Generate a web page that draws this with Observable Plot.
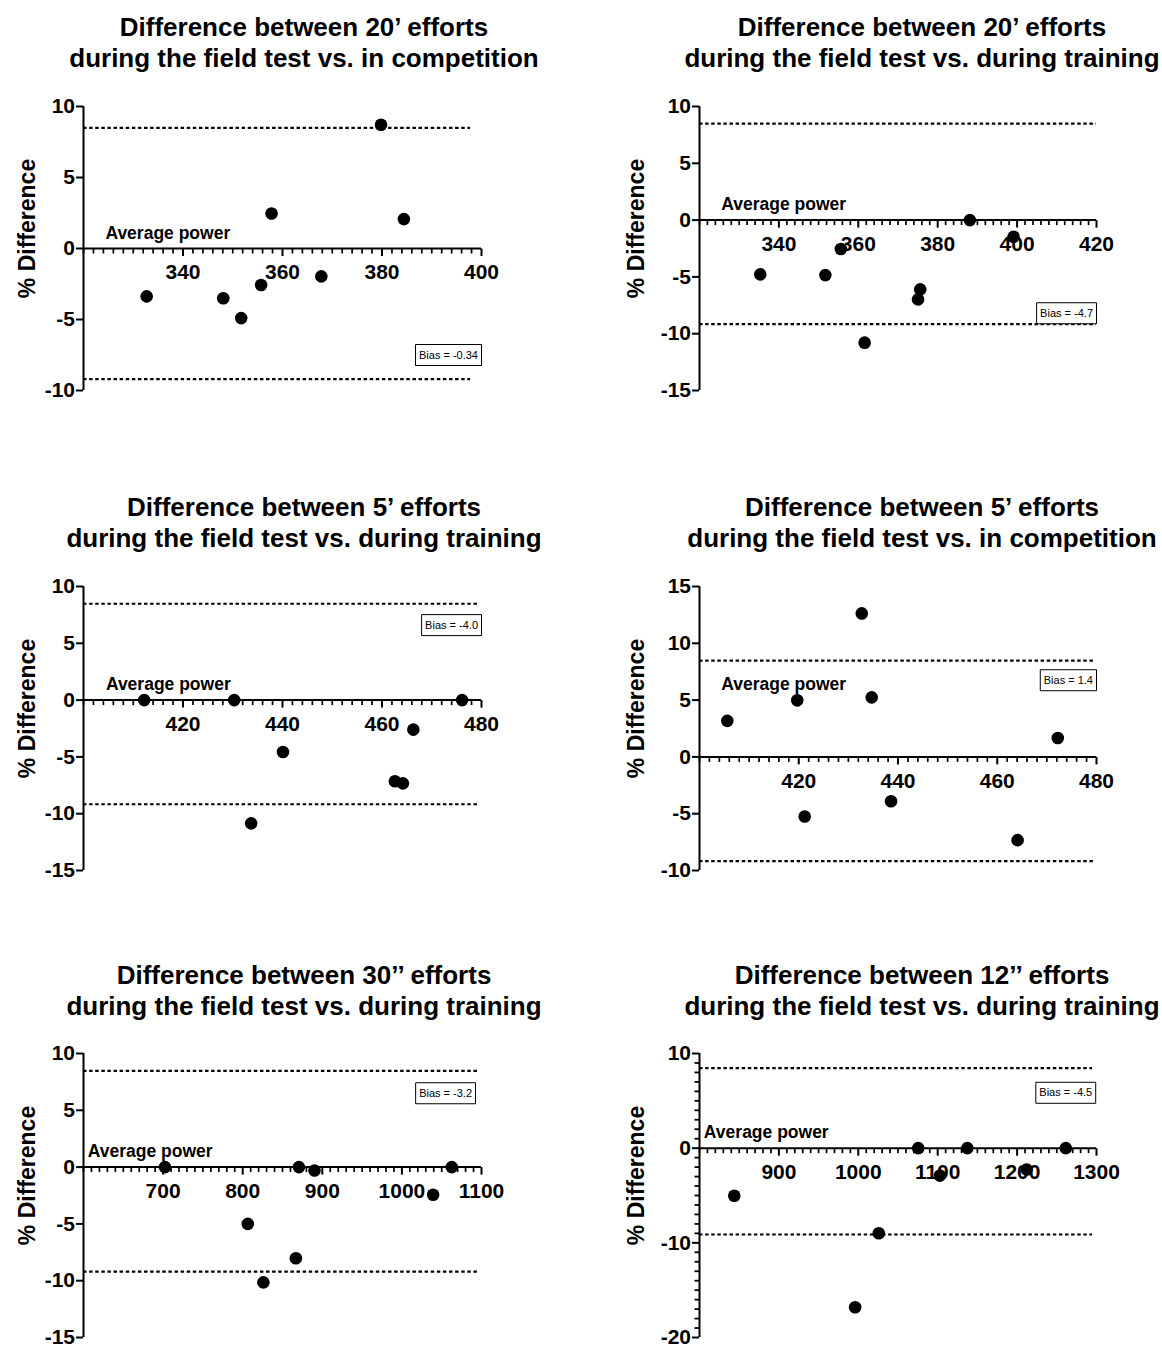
<!DOCTYPE html>
<html><head><meta charset="utf-8">
<script src="https://cdn.jsdelivr.net/npm/d3@7"></script>
<script src="https://cdn.jsdelivr.net/npm/@observablehq/plot@0.6"></script>
<style>
html,body{margin:0;padding:0;background:#fff;overflow:hidden}
#page{position:relative;width:1162px;height:1347px;font-family:"Liberation Sans",Arial,Helvetica,sans-serif;color:#000;background:#fff}
.title{position:absolute;font-weight:bold;font-size:26px;line-height:31px;text-align:center;white-space:nowrap;width:640px}
.panel{position:absolute}
</style></head><body><div id="page"></div>
<script>
// ---------------- DATA ----------------
const panelTitles = [
  ["Difference between 20\u2019 efforts", "during the field test vs. in competition"],
  ["Difference between 20\u2019 efforts", "during the field test vs. during training"],
  ["Difference between 5\u2019 efforts", "during the field test vs. during training"],
  ["Difference between 5\u2019 efforts", "during the field test vs. in competition"],
  ["Difference between 30\u2019\u2019 efforts", "during the field test vs. during training"],
  ["Difference between 12\u2019\u2019 efforts", "during the field test vs. during training"]
];
const power20Comp = [332.7, 348.1, 351.7, 355.7, 357.8, 367.8, 379.8, 384.4];
const diff20Comp  = [-3.37, -3.5, -4.9, -2.57, 2.47, -1.96, 8.71, 2.07];
const power20Train = [335.3, 351.7, 355.6, 361.6, 375.05, 375.6, 388.1, 399.1];
const diff20Train  = [-4.78, -4.84, -2.55, -10.79, -6.98, -6.1, 0, -1.47];
const power5Train = [412.2, 430.3, 433.7, 440.1, 462.6, 464.2, 466.3, 476.1];
const diff5Train  = [0, 0, -10.85, -4.57, -7.15, -7.33, -2.6, 0];
const power5Comp = [405.6, 419.7, 421.2, 432.7, 434.7, 438.6, 464.1, 472.2];
const diff5Comp  = [3.17, 4.98, -5.25, 12.63, 5.24, -3.9, -7.33, 1.67];
const power30sTrain = [702.3, 806.4, 826, 866.8, 870.6, 890.2, 1039.2, 1062.6];
const diff30sTrain  = [0, -5.0, -10.15, -8.03, 0, -0.3, -2.44, 0];
const power12sTrain = [843.8, 996, 1025.8, 1075.5, 1102.7, 1137.3, 1212.1, 1261.3];
const diff12sTrain  = [-5.02, -16.8, -8.98, 0, -2.9, 0, -2.25, 0];

const powerSeries = [power20Comp, power20Train, power5Train, power5Comp, power30sTrain, power12sTrain];
const diffSeries  = [diff20Comp, diff20Train, diff5Train, diff5Comp, diff30sTrain, diff12sTrain];

const xDomains = [[320, 400], [320, 420], [400, 480], [400, 480], [600, 1100], [800, 1300]];
const yDomains = [[-10, 10], [-15, 10], [-15, 10], [-10, 15], [-15, 10], [-20, 10]];
const xTickLabels = [
  [340, 360, 380, 400], [340, 360, 380, 400, 420], [420, 440, 460, 480],
  [420, 440, 460, 480], [700, 800, 900, 1000, 1100], [900, 1000, 1100, 1200, 1300]
];
const yTickLabels = [
  [-10, -5, 0, 5, 10], [-15, -10, -5, 0, 5, 10], [-15, -10, -5, 0, 5, 10],
  [-10, -5, 0, 5, 10, 15], [-15, -10, -5, 0, 5, 10], [-20, -10, 0, 10]
];
const xMinorSteps = [2, 2, 2, 2, 10, 10];
const yMinorSteps = [0, 0, 0, 0, 0, 1];
const limitsOfAgreement = [[8.5, -9.2], [8.5, -9.15], [8.48, -9.17], [8.47, -9.18], [8.47, -9.2], [8.45, -9.12]];
const loaLineEnd = [397.8, 420, 479.3, 479.5, 1096, 1295];
const biasLabels = ["Bias = -0.34", "Bias = -4.7", "Bias = -4.0", "Bias = 1.4", "Bias = -3.2", "Bias = -4.5"];
const biasAtX = [400, 420, 480, 480, 1092.5, 1299];
const biasAtY = [-7.5, -8.2, 6.6, 6.75, 6.5, 5.85];
const xAxisTitle = "Average power";
const xAxisTitleAtX = [324.4, 325.5, 404.5, 404.4, 605.4, 805.5];
const xAxisTitleAtY = [0, 0, 0, 5, 0, 0];
const yAxisTitle = "% Difference";

// ---------------- LAYOUT ----------------
const cols = [
  {left: 0, width: 560, ml: 83, mr: 79, ylabDx: -56, titleCx: 304},
  {left: 600, width: 562, ml: 99, mr: 66, ylabDx: -63, titleCx: 922}
];
const rows = [
  {plotTop: 106, titleBase: 36},
  {plotTop: 586, titleBase: 516},
  {plotTop: 1053, titleBase: 984.5}
];
const plotH = 284, mTop = 20, mBottom = 10;
const FONT = "Liberation Sans, Arial, Helvetica, sans-serif";

const measureCtx = document.createElement("canvas").getContext("2d");
measureCtx.font = "11px 'Liberation Sans', Arial, sans-serif";

const tickDown = len => ({draw(ctx) { ctx.moveTo(0, 0); ctx.lineTo(0, len); }});
const boxSymbol = (w, h) => ({draw(ctx) { ctx.moveTo(-w, -h / 2); ctx.lineTo(0, -h / 2); ctx.lineTo(0, h / 2); ctx.lineTo(-w, h / 2); ctx.closePath(); }});

const page = document.getElementById("page");

for (let i = 0; i < 6; i++) {
  const col = cols[i % 2], row = rows[Math.floor(i / 2)];
  const [x0, x1] = xDomains[i];
  const [y0, y1] = yDomains[i];
  const pts = powerSeries[i].map((p, k) => ({power: p, diff: diffSeries[i][k]}));
  const major = new Set(xTickLabels[i]);
  const allX = d3.range(x0, x1 + xMinorSteps[i] / 2, xMinorSteps[i]).map(v => Math.round(v * 1000) / 1000);
  const minorX = allX.filter(v => !major.has(v));
  const yMinor = yMinorSteps[i] ? d3.range(y0, y1 + 0.5, yMinorSteps[i]).filter(v => !yTickLabels[i].includes(v)) : [];
  const boxW = measureCtx.measureText(biasLabels[i]).width + 7;

  const marks = [
    Plot.ruleY(limitsOfAgreement[i], {x1: x0, x2: loaLineEnd[i], stroke: "black", strokeWidth: 2.2, strokeDasharray: "3.5,2.6"}),
    Plot.ruleX([x0], {stroke: "black", strokeWidth: 2}),
    Plot.ruleY([0], {stroke: "black", strokeWidth: 2}),
    Plot.axisY({ticks: yTickLabels[i], tickFormat: d => String(d), tickSize: 7, tickPadding: 1.5, fontSize: 21, fontWeight: "bold", strokeWidth: 2, label: null, anchor: "left"})
  ];
  if (yMinor.length) {
    marks.push(Plot.axisY({ticks: yMinor, tickFormat: () => "", tickSize: 4.5, strokeWidth: 1.8, label: null, anchor: "left"}));
  }
  marks.push(
    Plot.dot(minorX, {x: d => d, y: 0, symbol: tickDown(5), stroke: "black", strokeWidth: 1.7, fill: "none"}),
    Plot.dot(xTickLabels[i], {x: d => d, y: 0, symbol: tickDown(7.5), stroke: "black", strokeWidth: 2, fill: "none"}),
    Plot.text(xTickLabels[i], {x: d => d, y: 0, text: d => String(d), lineAnchor: "top", dy: 16, fontSize: 21, fontWeight: "bold", fill: "black"}),
    Plot.text([xAxisTitle], {x: xAxisTitleAtX[i], y: xAxisTitleAtY[i], text: d => d, textAnchor: "start", lineAnchor: "bottom", dy: -10, fontSize: 17.5, fontWeight: "bold", fill: "black"}),
    Plot.text([yAxisTitle], {frameAnchor: "left", text: d => d, rotate: -90, textAnchor: "middle", lineAnchor: "middle", dx: col.ylabDx, dy: -20, fontSize: 23, fontWeight: "bold", fill: "black"}),
    Plot.dot(pts, {x: "power", y: "diff", r: 6.3, fill: "black", stroke: "none"}),
    Plot.dot([biasLabels[i]], {x: biasAtX[i], y: biasAtY[i], symbol: boxSymbol(boxW, 21), fill: "white", stroke: "black", strokeWidth: 1}),
    Plot.text([biasLabels[i]], {x: biasAtX[i], y: biasAtY[i], text: d => d, textAnchor: "end", dx: -3.5, fontSize: 11, fill: "black"})
  );

  const chart = Plot.plot({
    width: col.width,
    height: mTop + plotH + mBottom,
    marginLeft: col.ml, marginRight: col.mr, marginTop: mTop, marginBottom: mBottom,
    style: {background: "white", color: "black", fontFamily: FONT, overflow: "visible"},
    x: {domain: [x0, x1], axis: null},
    y: {domain: [y0, y1], axis: null},
    marks
  });
  chart.classList.add("panel");
  chart.style.left = col.left + "px";
  chart.style.top = (row.plotTop - mTop) + "px";
  chart.style.position = "absolute";
  page.appendChild(chart);

  const t = document.createElement("div");
  t.className = "title";
  t.style.left = (col.titleCx - 320) + "px";
  t.style.top = (row.titleBase - 24.5) + "px";
  t.innerHTML = panelTitles[i][0] + "<br>" + panelTitles[i][1];
  page.appendChild(t);
}
</script></body></html>
